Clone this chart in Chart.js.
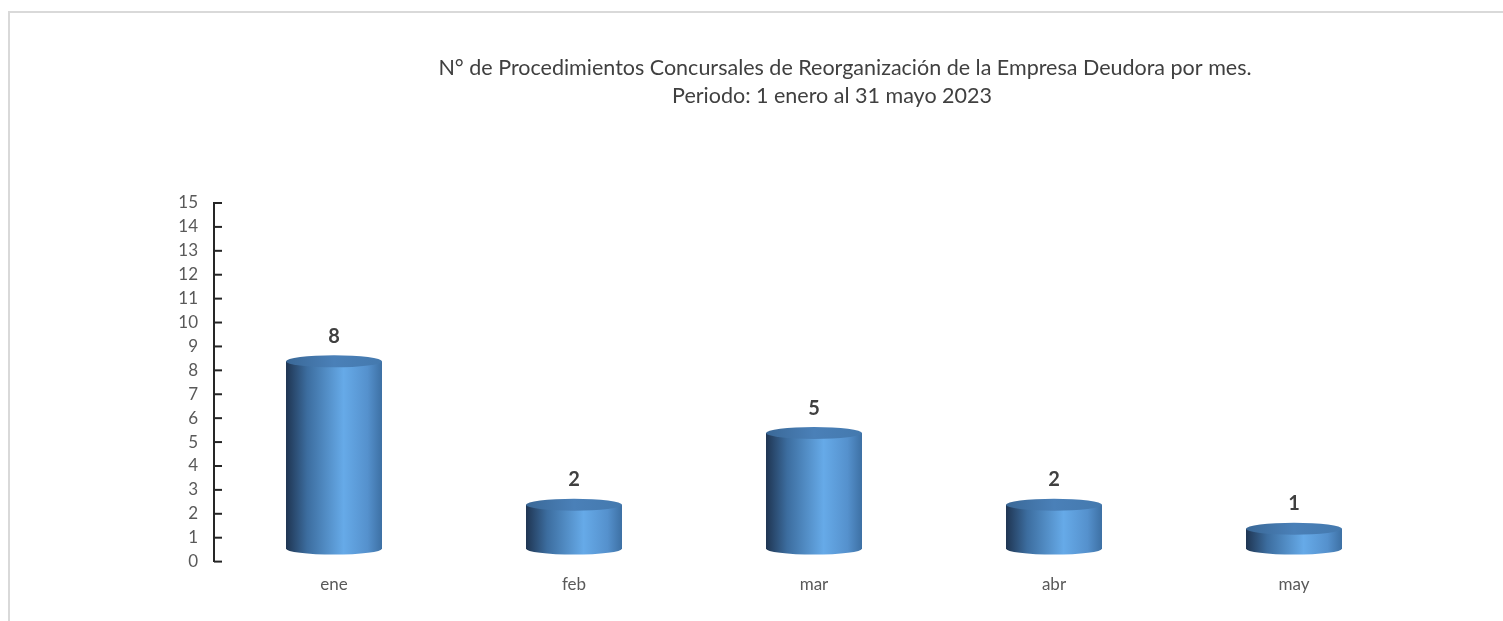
<!DOCTYPE html>
<html>
<head>
<meta charset="utf-8">
<script src="https://cdn.jsdelivr.net/npm/chart.js@4.4.0/dist/chart.umd.min.js"></script>
<style>
  body { margin: 0; background: #fff; }
  #wrap { position: relative; width: 1503px; height: 621px; }
</style>
</head>
<body>
<div id="wrap"><canvas id="graficoMeses"></canvas></div>
<script>
// datos del grafico
const meses = ['ene', 'feb', 'mar', 'abr', 'may'];
const procedimientos = [8, 2, 5, 2, 1];
const ticksEjeY = [0, 1, 2, 3, 4, 5, 6, 7, 8, 9, 10, 11, 12, 13, 14, 15];
const tituloLineas = [
    'N° de Procedimientos Concursales de Reorganización de la Empresa Deudora por mes.',
    'Periodo: 1 enero al 31 mayo 2023'
];

const fuente = 'Lato, "Open Sans", sans-serif';

// marco, titulo, cilindros y marcas del eje
const dibujos = {
    id: 'dibujos',
    beforeDraw(chart) {
        const ctx = chart.ctx;
        ctx.save();
        ctx.strokeStyle = '#d9d9d9';
        ctx.lineWidth = 2;
        ctx.beginPath();
        ctx.moveTo(9, 621);
        ctx.lineTo(9, 12);
        ctx.lineTo(1503, 12);
        ctx.stroke();

        ctx.fillStyle = '#404040';
        ctx.font = '21.5px ' + fuente;
        ctx.textAlign = 'center';
        ctx.textBaseline = 'middle';
        ctx.fillText(tituloLineas[0], 845, 68);
        ctx.fillText(tituloLineas[1], 832, 96);
        ctx.restore();
    },
    afterDatasetsDraw(chart) {
        const ctx = chart.ctx;
        const meta = chart.getDatasetMeta(0);
        ctx.save();
        meta.data.forEach((bar, i) => {
            const w = bar.width;
            const x0 = bar.x - w / 2, x1 = bar.x + w / 2;
            const top = bar.y - 9, bot = bar.base - 13, ry = 6;

            const g = ctx.createLinearGradient(x0, 0, x1, 0);
            g.addColorStop(0, '#1f3552');
            g.addColorStop(0.22, '#3c6d9f');
            g.addColorStop(0.6, '#66aae8');
            g.addColorStop(0.85, '#5591cd');
            g.addColorStop(1, '#3d70a4');
            ctx.beginPath();
            ctx.moveTo(x0, top);
            ctx.lineTo(x0, bot);
            ctx.ellipse(bar.x, bot, w / 2, ry, 0, Math.PI, 0, true);
            ctx.lineTo(x1, top);
            ctx.closePath();
            ctx.fillStyle = g;
            ctx.fill();

            const gt = ctx.createLinearGradient(x0, 0, x1, 0);
            gt.addColorStop(0, '#3a6897');
            gt.addColorStop(0.5, '#4a80b8');
            gt.addColorStop(1, '#4479ae');
            ctx.beginPath();
            ctx.ellipse(bar.x, top, w / 2, ry, 0, 0, Math.PI * 2);
            ctx.fillStyle = gt;
            ctx.fill();

            ctx.fillStyle = '#404040';
            ctx.font = 'bold 20px ' + fuente;
            ctx.textAlign = 'center';
            ctx.textBaseline = 'middle';
            ctx.fillText(procedimientos[i], bar.x, top - 25);
        });

        // marcas del eje Y hacia dentro
        const y = chart.scales.y;
        ctx.strokeStyle = '#262626';
        ctx.lineWidth = 2;
        y.ticks.forEach(t => {
            const py = y.getPixelForValue(t.value);
            ctx.beginPath();
            ctx.moveTo(y.right, py);
            ctx.lineTo(y.right + 8, py);
            ctx.stroke();
        });
        ctx.restore();
    }
};

new Chart(document.getElementById('graficoMeses').getContext('2d'), {
    type: 'bar',
    data: {
        labels: meses,
        datasets: [{
            label: 'Procedimientos',
            data: procedimientos,
            backgroundColor: 'rgba(0,0,0,0)',
            barPercentage: 0.4,
            categoryPercentage: 1
        }]
    },
    options: {
        responsive: true,
        maintainAspectRatio: false,
        animation: false,
        layout: { padding: { top: 203, left: 170, right: 89, bottom: 13 } },
        plugins: {
            legend: { display: false },
            title: { display: false },
            tooltip: { enabled: false }
        },
        scales: {
            x: {
                grid: { display: false, drawTicks: false },
                border: { display: false },
                ticks: { color: '#595959', font: { family: fuente, size: 17 }, padding: 13 }
            },
            y: {
                min: 0,
                max: 15,
                afterBuildTicks: s => { s.ticks = ticksEjeY.map(v => ({ value: v })); },
                afterFit: s => { s.width = 44; },
                grid: { display: false, drawTicks: false },
                border: { display: true, color: '#262626', width: 2 },
                ticks: { color: '#595959', font: { family: fuente, size: 17 }, padding: 16 }
            }
        }
    },
    plugins: [dibujos]
});
</script>
</body>
</html>
